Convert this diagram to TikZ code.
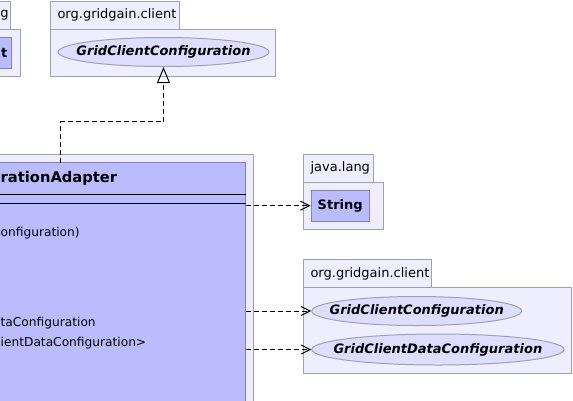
\documentclass[tikz,border=0pt]{standalone}
\usepackage{fontspec}
\setmainfont{DejaVu Sans}
\usetikzlibrary{shapes.geometric,arrows.meta}
\definecolor{pkgfill}{RGB}{238,238,255}
\definecolor{pkgline}{RGB}{160,160,176}
\definecolor{clsfill}{RGB}{187,187,255}
\definecolor{clsline}{RGB}{130,130,185}
\definecolor{ifcfill}{RGB}{221,221,255}
\newcommand{\umlsize}{\fontsize{13}{15}\selectfont}
\tikzset{
  pkg/.style={draw=pkgline,fill=pkgfill,line width=1pt},
  cls/.style={draw=clsline,fill=clsfill,line width=1pt,rectangle,inner sep=0pt,font=\umlsize\bfseries},
  ifc/.style={draw=pkgline,fill=ifcfill,line width=1pt,ellipse,inner sep=0pt,
    label={[font=\umlsize\bfseries\itshape]center:#1}},
  member/.style={anchor=west,inner sep=0pt,font=\fontsize{12.2}{14}\selectfont},
  dep/.style={line width=1pt,dash pattern=on 5pt off 3pt,-{Straight Barb[length=9pt,width=9pt]}},
  gen/.style={line width=1pt,dash pattern=on 5pt off 3pt,-{Triangle[open,length=16pt,width=13pt]}}
}
\begin{document}
\begin{tikzpicture}[x=1pt,y=-1pt,font=\umlsize]
\useasboundingbox (0,0) rectangle (573,400);
\clip (0,0) rectangle (573,400);
\draw[pkg] (-40,1.5) rectangle (10.7,29);
\draw[pkg] (-40,29) rectangle (20.7,76);
\node[anchor=east,inner sep=0pt] (langTabL) at (8.8,15) {g};
\node[cls,minimum width=60pt,minimum height=31pt] (objL) at (-19,52.8) {};
\node[anchor=east,inner sep=0pt,font=\umlsize\bfseries] (objTxt) at (7.5,52.8) {t};
\draw[pkg] (50.5,1.5) rectangle (179,29);
\draw[pkg] (50.5,29) rectangle (275.5,76);
\node[anchor=west] (clientTabTop) at (54,15.3) {org.gridgain.client};
\node[ifc={GridClientConfiguration},minimum width=211pt,minimum height=29pt] (gccTop) at (163.5,52) {};
\draw[pkg] (-70,154.3) rectangle (253.3,430);
\node[cls,minimum width=305.7pt,minimum height=267pt] (adapter) at (92.85,296.2) {};
\node[anchor=west,inner sep=0pt,font=\fontsize{14.7}{17}\selectfont\bfseries] (adapterName) at (0.5,178.5) {rationAdapter};
\foreach \y in {194,203}\draw[line width=1pt] (-60,\y) -- (245.7,\y);
\node[member] (m1) at (0.5,232.7) {onfiguration)};
\node[member] (m2) at (0.5,322.7) {taConfiguration};
\node[member] (m3) at (0.5,342.7) {ientDataConfiguration>};
\draw[pkg] (303.3,154.3) rectangle (373.3,182.3);
\draw[pkg] (303.3,182.3) rectangle (383.3,229);
\node[anchor=west] (langTab) at (307,168.3) {java.lang};
\node[cls,minimum width=58.3pt,minimum height=30.7pt] (str) at (340.2,205.7) {String};
\draw[pkg] (303.3,259.3) rectangle (431.7,287.7);
\draw[pkg] (303.3,287.7) rectangle (571.7,373.3);
\node[anchor=west] (clientTab) at (307,273.5) {org.gridgain.client};
\node[ifc={GridClientConfiguration},minimum width=210pt,minimum height=29pt] (gcc) at (416.7,311) {};
\node[ifc={GridClientDataConfiguration},minimum width=252.3pt,minimum height=31pt] (gcdc) at (437.9,349.5) {};
\coordinate (genStart) at (60.7,162.7);
\draw[gen] (genStart) -- ++(0,-41) -| (gccTop.south);
\draw[dep] (adapter.east |- str.west) -- (str.west);
\draw[dep] (adapter.east |- gcc.west) -- (gcc.west);
\draw[dep] (adapter.east |- gcdc.west) -- (gcdc.west);
\end{tikzpicture}
\end{document}
